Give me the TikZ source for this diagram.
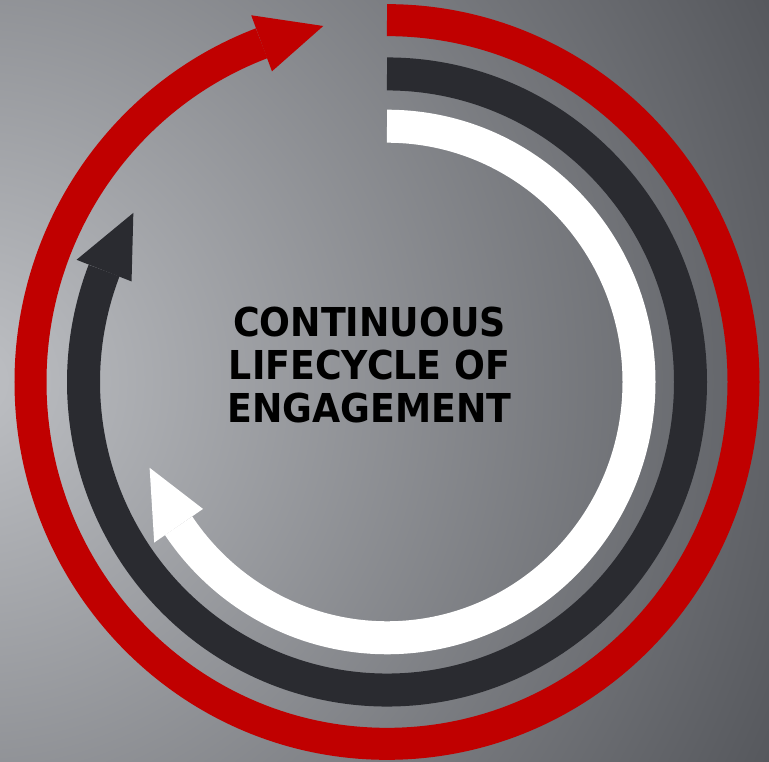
\documentclass[tikz,border=0pt]{standalone}
\usepackage{fontspec}
\newfontfamily\labelfont{DejaVu Sans}
\definecolor{ringred}{RGB}{192,0,0}
\definecolor{ringdark}{RGB}{42,43,48}
\definecolor{bglight}{RGB}{190,192,196}
\definecolor{bgdark}{RGB}{84,86,91}
\pgfdeclareradialshading{bgglow}{\pgfpointorigin}{color(0bp)=(bglight); color(25bp)=(bgdark); color(50bp)=(bgdark)}

\begin{document}
\begin{tikzpicture}[x=1pt,y=1pt]
  \tikzset{ring/.style={line width=#1, line cap=butt}}
  \tikzset{title/.style={font=\labelfont\bfseries\fontsize{39.8}{43}\selectfont, align=center, inner sep=0pt, xscale=0.913}}
  \useasboundingbox (0,0) rectangle (769,762);
  \begin{scope}
    \clip (0,0) rectangle (769,762);
    \shade[shading=bgglow] (-30,381) circle (900);
  \end{scope}
  \begin{scope}[shift={(387,380)}, yscale=1.015]
    \foreach \r/\w/\a/\t/\c in {356.5/32/110.6/100.3/ringred, 303.5/33/158.8/146.7/ringdark, 252/33/214.2/199.6/white}{
      \draw[ring=\w pt, \c] (90:\r) arc[start angle=90, end angle=\a-360, radius=\r];
      \fill[\c] ({\a}:{\r+29.5}) -- ({\t}:{\r}) -- ({\a}:{\r-29.5}) -- cycle;
    }
  \end{scope}
  \node[title] (lifecycle) at (369.5,396.5) {CONTINUOUS\\LIFECYCLE OF\\ENGAGEMENT};
\end{tikzpicture}
\end{document}
